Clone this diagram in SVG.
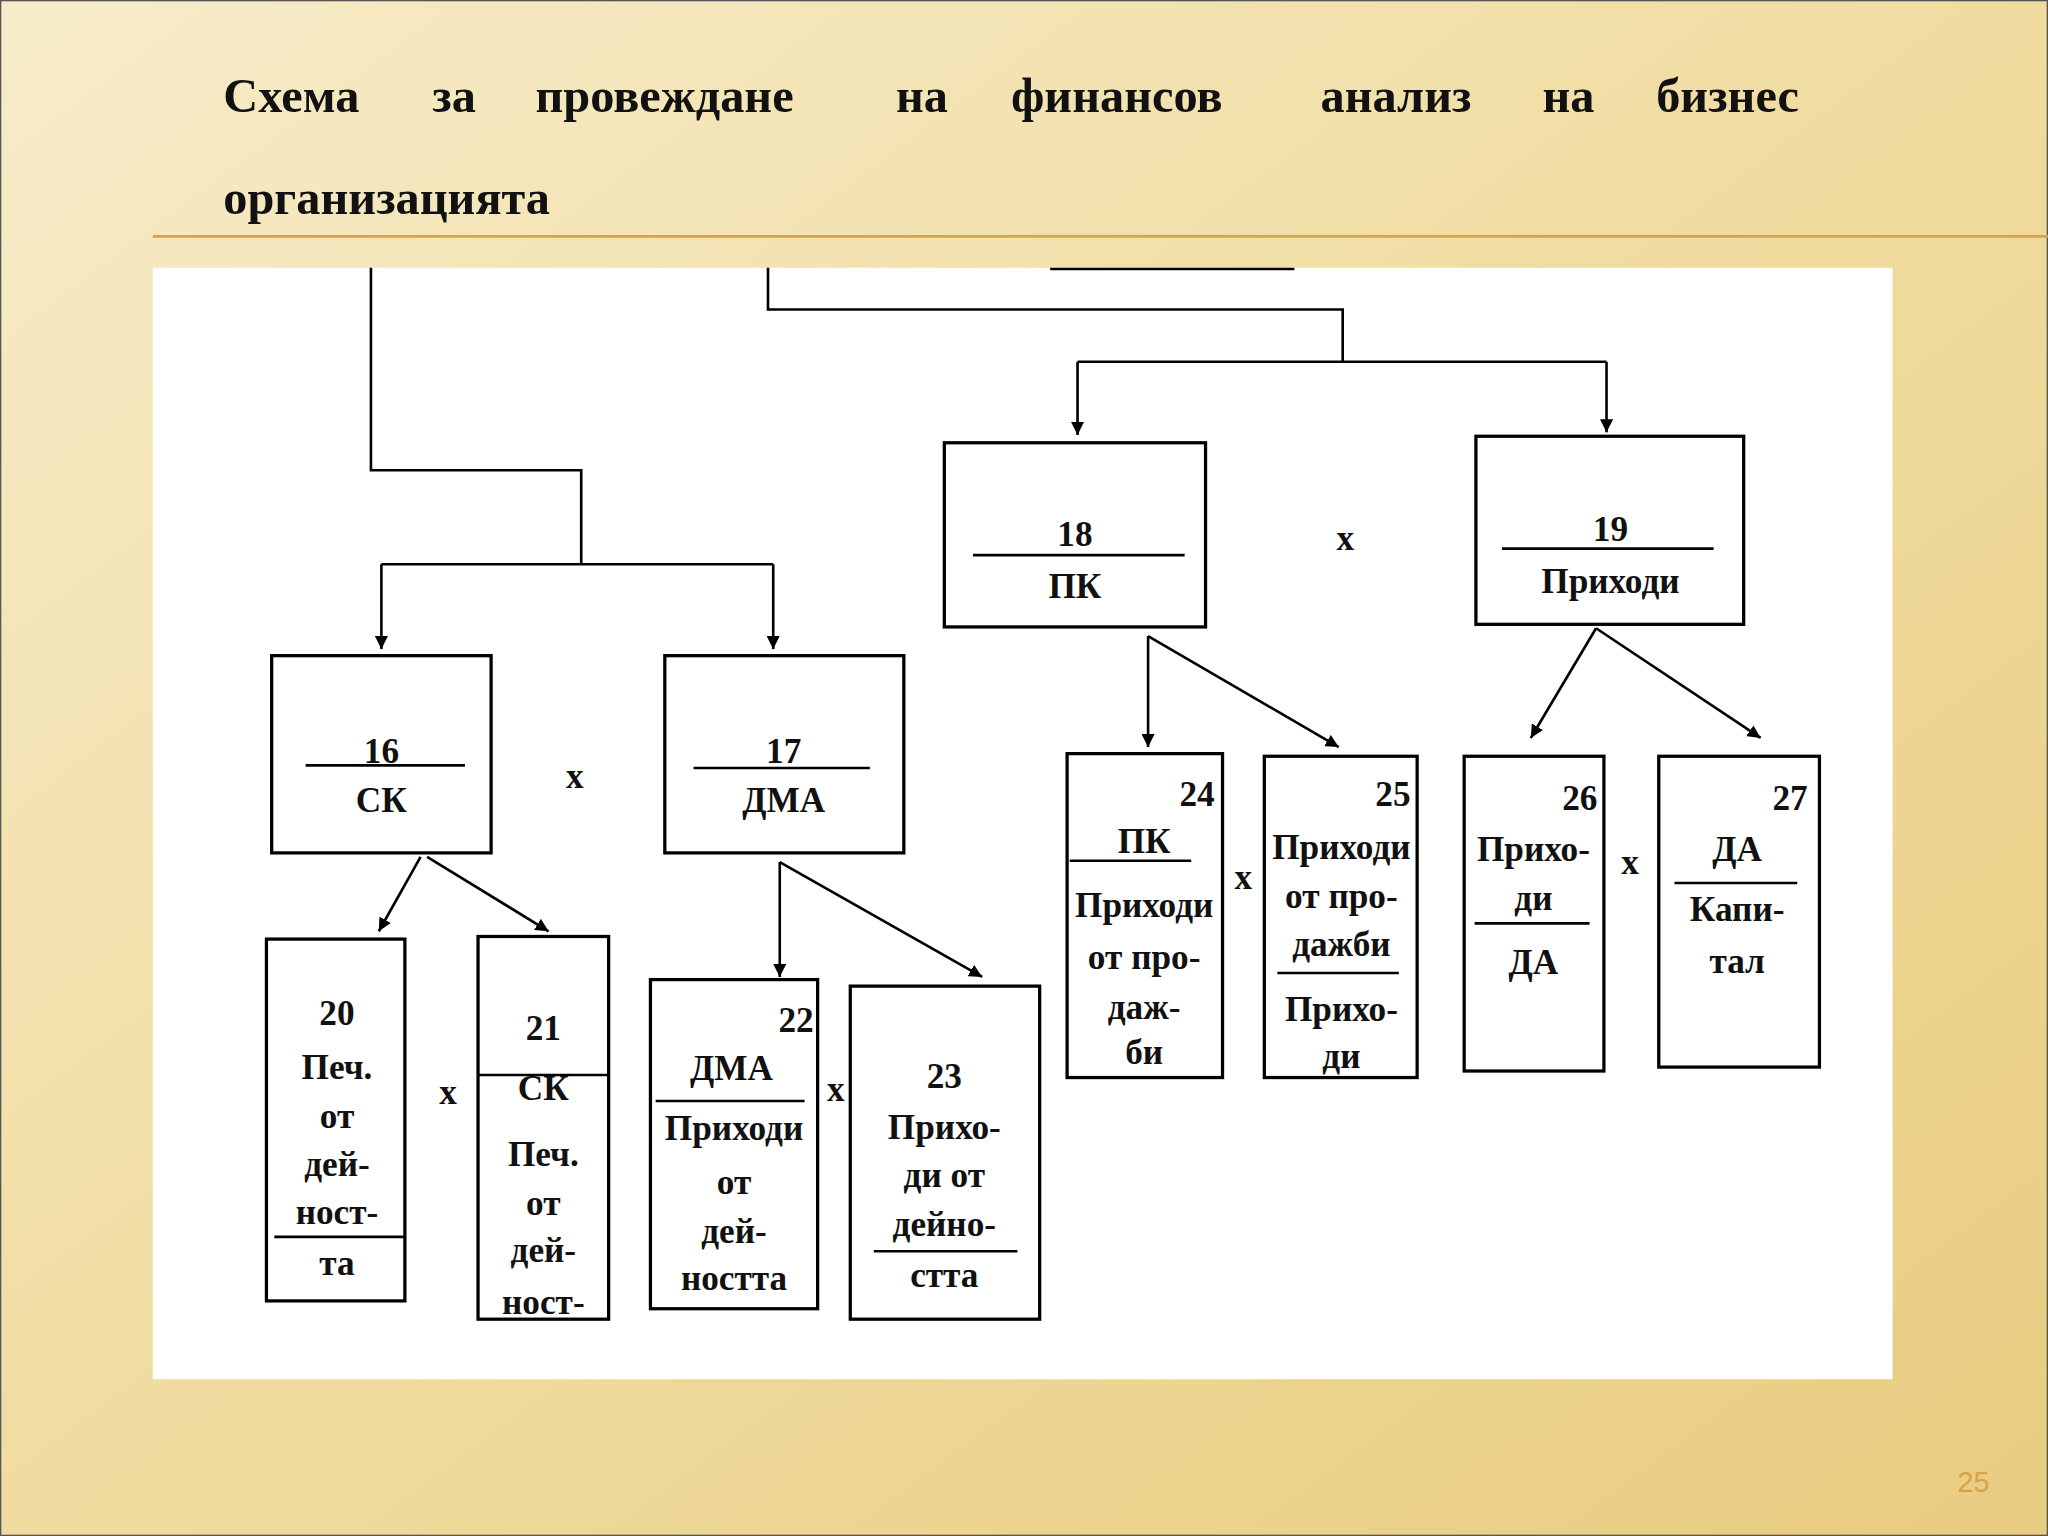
<svg xmlns="http://www.w3.org/2000/svg" width="2048" height="1536" viewBox="0 0 2048 1536">
<defs>
<linearGradient id="bg" x1="0" y1="0" x2="1" y2="1"><stop offset="0" stop-color="#f7ecca"/><stop offset="0.5" stop-color="#f0dca0"/><stop offset="1" stop-color="#e8cc80"/></linearGradient>
<marker id="ar" viewBox="0 0 10 10" refX="10" refY="5" markerWidth="10" markerHeight="10" markerUnits="userSpaceOnUse" orient="auto"><path d="M0,0 L10,5 L0,10 z" fill="#000"/></marker>
<style>
.b{fill:#fff;stroke:#000;stroke-width:2.5}
.l{stroke:#000;stroke-width:2}
.t{font-family:"Liberation Serif",serif;font-weight:bold;font-size:27px;text-anchor:middle;fill:#111}
.r{text-anchor:end}
.c{fill:none;stroke:#000;stroke-width:2}
.ttl{font-family:"Liberation Serif",serif;font-weight:bold;font-size:37px;fill:#111}
</style>
</defs>
<rect width="2048" height="1536" fill="url(#bg)"/>
<g transform="scale(1.30612)">
<rect x="0.5" y="0.5" width="1567" height="1175" fill="none" stroke="#555" stroke-width="1"/>
<line x1="117" y1="181" x2="1568" y2="181" stroke="#e0a040" stroke-width="2"/>
<g id="title" class="ttl">
<text x="171" y="86">Схема</text><text x="331" y="86">за</text><text x="410" y="86">провеждане</text><text x="686" y="86">на</text><text x="774" y="86">финансов</text><text x="1011" y="86">анализ</text><text x="1181" y="86">на</text><text x="1268" y="86">бизнес</text>
<text x="171" y="164">организацията</text>
</g>
<rect x="117" y="205" width="1332" height="851" fill="#fff"/>
<g id="connectors">
<polyline class="c" points="284,205 284,360 445,360 445,432"/>
<polyline class="c" points="292,432 592,432"/>
<line class="c" x1="292" y1="432" x2="292" y2="497" marker-end="url(#ar)"/>
<line class="c" x1="592" y1="432" x2="592" y2="497" marker-end="url(#ar)"/>
<line class="c" x1="804" y1="206" x2="991" y2="206"/>
<polyline class="c" points="588,205 588,237 1028,237 1028,277"/>
<polyline class="c" points="825,277 1230,277"/>
<line class="c" x1="825" y1="277" x2="825" y2="333" marker-end="url(#ar)"/>
<line class="c" x1="1230" y1="277" x2="1230" y2="331" marker-end="url(#ar)"/>
<line class="c" x1="322" y1="656" x2="290" y2="713" marker-end="url(#ar)"/>
<line class="c" x1="327" y1="656" x2="420" y2="713" marker-end="url(#ar)"/>
<line class="c" x1="597" y1="660" x2="597" y2="748" marker-end="url(#ar)"/>
<line class="c" x1="597" y1="660" x2="752" y2="748" marker-end="url(#ar)"/>
<line class="c" x1="879" y1="487" x2="879" y2="572" marker-end="url(#ar)"/>
<line class="c" x1="879" y1="487" x2="1025" y2="572" marker-end="url(#ar)"/>
<line class="c" x1="1222" y1="481" x2="1172" y2="565" marker-end="url(#ar)"/>
<line class="c" x1="1222" y1="481" x2="1348" y2="565" marker-end="url(#ar)"/>
</g>
<g class="t">
<text x="440" y="603">x</text><text x="1030" y="421">x</text><text x="343" y="845">x</text><text x="640" y="843">x</text><text x="952" y="681">x</text><text x="1248" y="669">x</text>
</g>
<g id="n16"><rect class="b" x="208" y="502" width="168" height="151"/><line class="l" x1="234" y1="586" x2="356" y2="586"/><text class="t" x="292" y="584">16</text><text class="t" x="292" y="622">СК</text></g>
<g id="n17"><rect class="b" x="509" y="502" width="183" height="151"/><line class="l" x1="531" y1="588" x2="666" y2="588"/><text class="t" x="600" y="584">17</text><text class="t" x="600" y="622">ДМА</text></g>
<g id="n18"><rect class="b" x="723" y="339" width="200" height="141"/><line class="l" x1="745" y1="425" x2="907" y2="425"/><text class="t" x="823" y="418">18</text><text class="t" x="823" y="458">ПК</text></g>
<g id="n19"><rect class="b" x="1130" y="334" width="205" height="144"/><line class="l" x1="1150" y1="420" x2="1312" y2="420"/><text class="t" x="1233" y="414">19</text><text class="t" x="1233" y="454">Приходи</text></g>
<g id="n20"><rect class="b" x="204" y="719" width="106" height="277"/><line class="l" x1="210" y1="947" x2="310" y2="947"/><text class="t" x="258" y="785">20</text><text class="t" x="258" y="826">Печ.</text><text class="t" x="258" y="864">от</text><text class="t" x="258" y="900">дей-</text><text class="t" x="258" y="937">ност-</text><text class="t" x="258" y="976">та</text></g>
<g id="n21"><rect class="b" x="366" y="717" width="100" height="293"/><line class="l" x1="366" y1="823" x2="466" y2="823"/><text class="t" x="416" y="796">21</text><text class="t" x="416" y="842">СК</text><text class="t" x="416" y="893">Печ.</text><text class="t" x="416" y="930">от</text><text class="t" x="416" y="966">дей-</text><text class="t" x="416" y="1006">ност-</text></g>
<g id="n22"><rect class="b" x="498" y="750" width="128" height="252"/><line class="l" x1="502" y1="843" x2="616" y2="843"/><text class="t r" x="623" y="790">22</text><text class="t" x="560" y="827">ДМА</text><text class="t" x="562" y="873">Приходи</text><text class="t" x="562" y="914">от</text><text class="t" x="562" y="952">дей-</text><text class="t" x="562" y="988">ността</text></g>
<g id="n23"><rect class="b" x="651" y="755" width="145" height="255"/><line class="l" x1="669" y1="958" x2="779" y2="958"/><text class="t" x="723" y="833">23</text><text class="t" x="723" y="872">Прихо-</text><text class="t" x="723" y="909">ди от</text><text class="t" x="723" y="946">дейно-</text><text class="t" x="723" y="985">стта</text></g>
<g id="n24"><rect class="b" x="817" y="577" width="119" height="248"/><line class="l" x1="819" y1="659" x2="912" y2="659"/><text class="t r" x="930" y="617">24</text><text class="t" x="876" y="653">ПК</text><text class="t" x="876" y="702">Приходи</text><text class="t" x="876" y="742">от про-</text><text class="t" x="876" y="780">даж-</text><text class="t" x="876" y="815">би</text></g>
<g id="n25"><rect class="b" x="968" y="579" width="117" height="246"/><line class="l" x1="978" y1="745" x2="1071" y2="745"/><text class="t r" x="1080" y="617">25</text><text class="t" x="1027" y="658">Приходи</text><text class="t" x="1027" y="695">от про-</text><text class="t" x="1027" y="732">дажби</text><text class="t" x="1027" y="782">Прихо-</text><text class="t" x="1027" y="818">ди</text></g>
<g id="n26"><rect class="b" x="1121" y="579" width="107" height="241"/><line class="l" x1="1129" y1="707" x2="1217" y2="707"/><text class="t r" x="1223" y="620">26</text><text class="t" x="1174" y="659">Прихо-</text><text class="t" x="1174" y="697">ди</text><text class="t" x="1174" y="746">ДА</text></g>
<g id="n27"><rect class="b" x="1270" y="579" width="123" height="238"/><line class="l" x1="1282" y1="676" x2="1376" y2="676"/><text class="t r" x="1384" y="620">27</text><text class="t" x="1330" y="659">ДА</text><text class="t" x="1330" y="705">Капи-</text><text class="t" x="1330" y="745">тал</text></g>
<text x="1511" y="1142" font-family="Liberation Sans,sans-serif" font-size="22" fill="#d9a24a" text-anchor="middle">25</text>
</g>
</svg>
